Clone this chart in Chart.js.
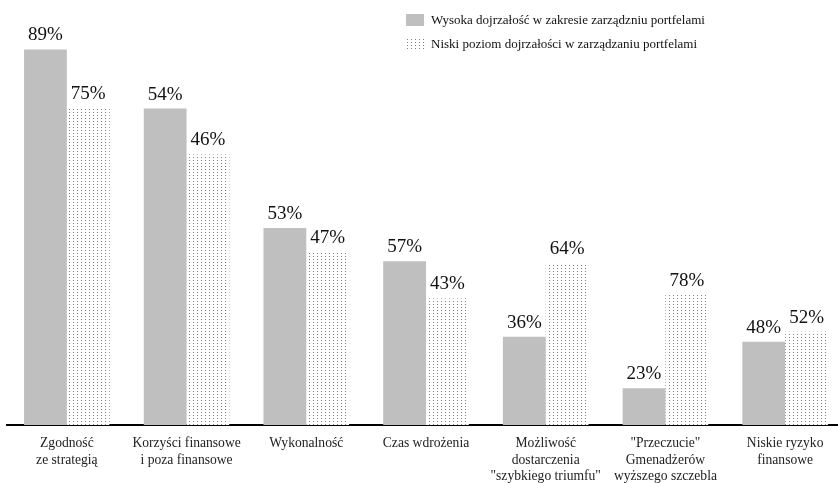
<!DOCTYPE html>
<html>
<head>
<meta charset="utf-8">
<script src="https://cdn.jsdelivr.net/npm/chart.js@4"></script>
<style>
  html, body { margin: 0; padding: 0; background: #fff; overflow: hidden; width: 838px; height: 483px; }
  #wrap { position: relative; width: 846px; height: 483px; }
  #legend { position: absolute; left: 406px; top: 8px; font-family: "Liberation Serif", serif; font-size: 13px; color: #111; }
  .item { display: flex; align-items: center; height: 24px; }
  .box { width: 18px; height: 12px; margin-right: 7px; }
</style>
</head>
<body>
<div id="wrap">
  <canvas id="c" width="846" height="483"></canvas>
  <div id="legend"></div>
</div>
<script>
// Categories (x-axis tick labels)
const categories = [
  ["Zgodność", "ze strategią"],
  ["Korzyści finansowe", "i poza finansowe"],
  "Wykonalność",
  "Czas wdrożenia",
  ["Możliwość", "dostarczenia", "\"szybkiego triumfu\""],
  ["\"Przeczucie\"", "Gmenadżerów", "wyższego szczebla"],
  ["Niskie ryzyko", "finansowe"]
];
const seriesNames = [
  "Wysoka dojrzałość w zakresie zarządzniu portfelami",
  "Niski poziom dojrzałości w zarządzaniu portfelami"
];
// Percent labels printed above the bars
const highLabels = [89, 54, 53, 57, 36, 23, 48];
const lowLabels  = [75, 46, 47, 43, 64, 78, 52];
// Bar heights as drawn in the picture (same percent scale as the first bar)
const highHeights = [89, 75, 46.7, 38.8, 20.9, 8.7, 19.7];
const lowHeights  = [75.2, 64.1, 41, 30, 38.3, 30.9, 22.1];

// dotted pattern
const pc = document.createElement('canvas');
pc.width = 4; pc.height = 3;
const px = pc.getContext('2d');
px.fillStyle = '#ffffff'; px.fillRect(0, 0, 4, 3);
px.fillStyle = '#808080'; px.fillRect(1, 1, 1, 1);
const ctx0 = document.getElementById('c').getContext('2d');
const dotPattern = ctx0.createPattern(pc, 'repeat');
const grey = '#bfbfbf';

// HTML legend
const lg = document.getElementById('legend');
const patURL = pc.toDataURL();
seriesNames.forEach((n, i) => {
  const it = document.createElement('div'); it.className = 'item';
  const b = document.createElement('span'); b.className = 'box';
  if (i === 0) b.style.background = grey;
  else { b.style.backgroundImage = 'url(' + patURL + ')'; }
  const t = document.createElement('span'); t.textContent = n;
  it.appendChild(b); it.appendChild(t); lg.appendChild(it);
});

const labelPlugin = {
  id: 'vals',
  afterDatasetsDraw(chart) {
    const ctx = chart.ctx;
    ctx.save();
    ctx.font = '19px "Liberation Serif", serif';
    ctx.fillStyle = '#111';
    ctx.textAlign = 'center';
    ctx.textBaseline = 'alphabetic';
    const texts = [highLabels, lowLabels];
    chart.data.datasets.forEach((ds, di) => {
      chart.getDatasetMeta(di).data.forEach((bar, i) => {
        ctx.fillText(texts[di][i] + '%', bar.x, bar.y - 9);
      });
    });
    ctx.restore();
  }
};

new Chart(ctx0, {
  type: 'bar',
  data: {
    labels: categories,
    datasets: [
      { label: seriesNames[0], data: highHeights, backgroundColor: grey, borderWidth: 0 },
      { label: seriesNames[1], data: lowHeights, backgroundColor: dotPattern, borderWidth: 0 }
    ]
  },
  options: {
    responsive: false,
    animation: false,
    layout: { padding: { left: 7, right: 1, top: 3, bottom: 0 } },
    plugins: { legend: { display: false }, tooltip: { enabled: false } },
    datasets: { bar: { categoryPercentage: 0.715, barPercentage: 1 } },
    scales: {
      x: {
        grid: { display: false },
        border: { display: true, color: '#000', width: 2 },
        ticks: {
          color: '#222', padding: 2.5, maxRotation: 0, autoSkip: false,
          font: { family: '"Liberation Serif", serif', size: 13.6, lineHeight: '16.5px' }
        },
        afterFit(s) { s.height = 58; }
      },
      y: { display: false, min: 0, max: 100 }
    }
  },
  plugins: [labelPlugin]
});
</script>
</body>
</html>
